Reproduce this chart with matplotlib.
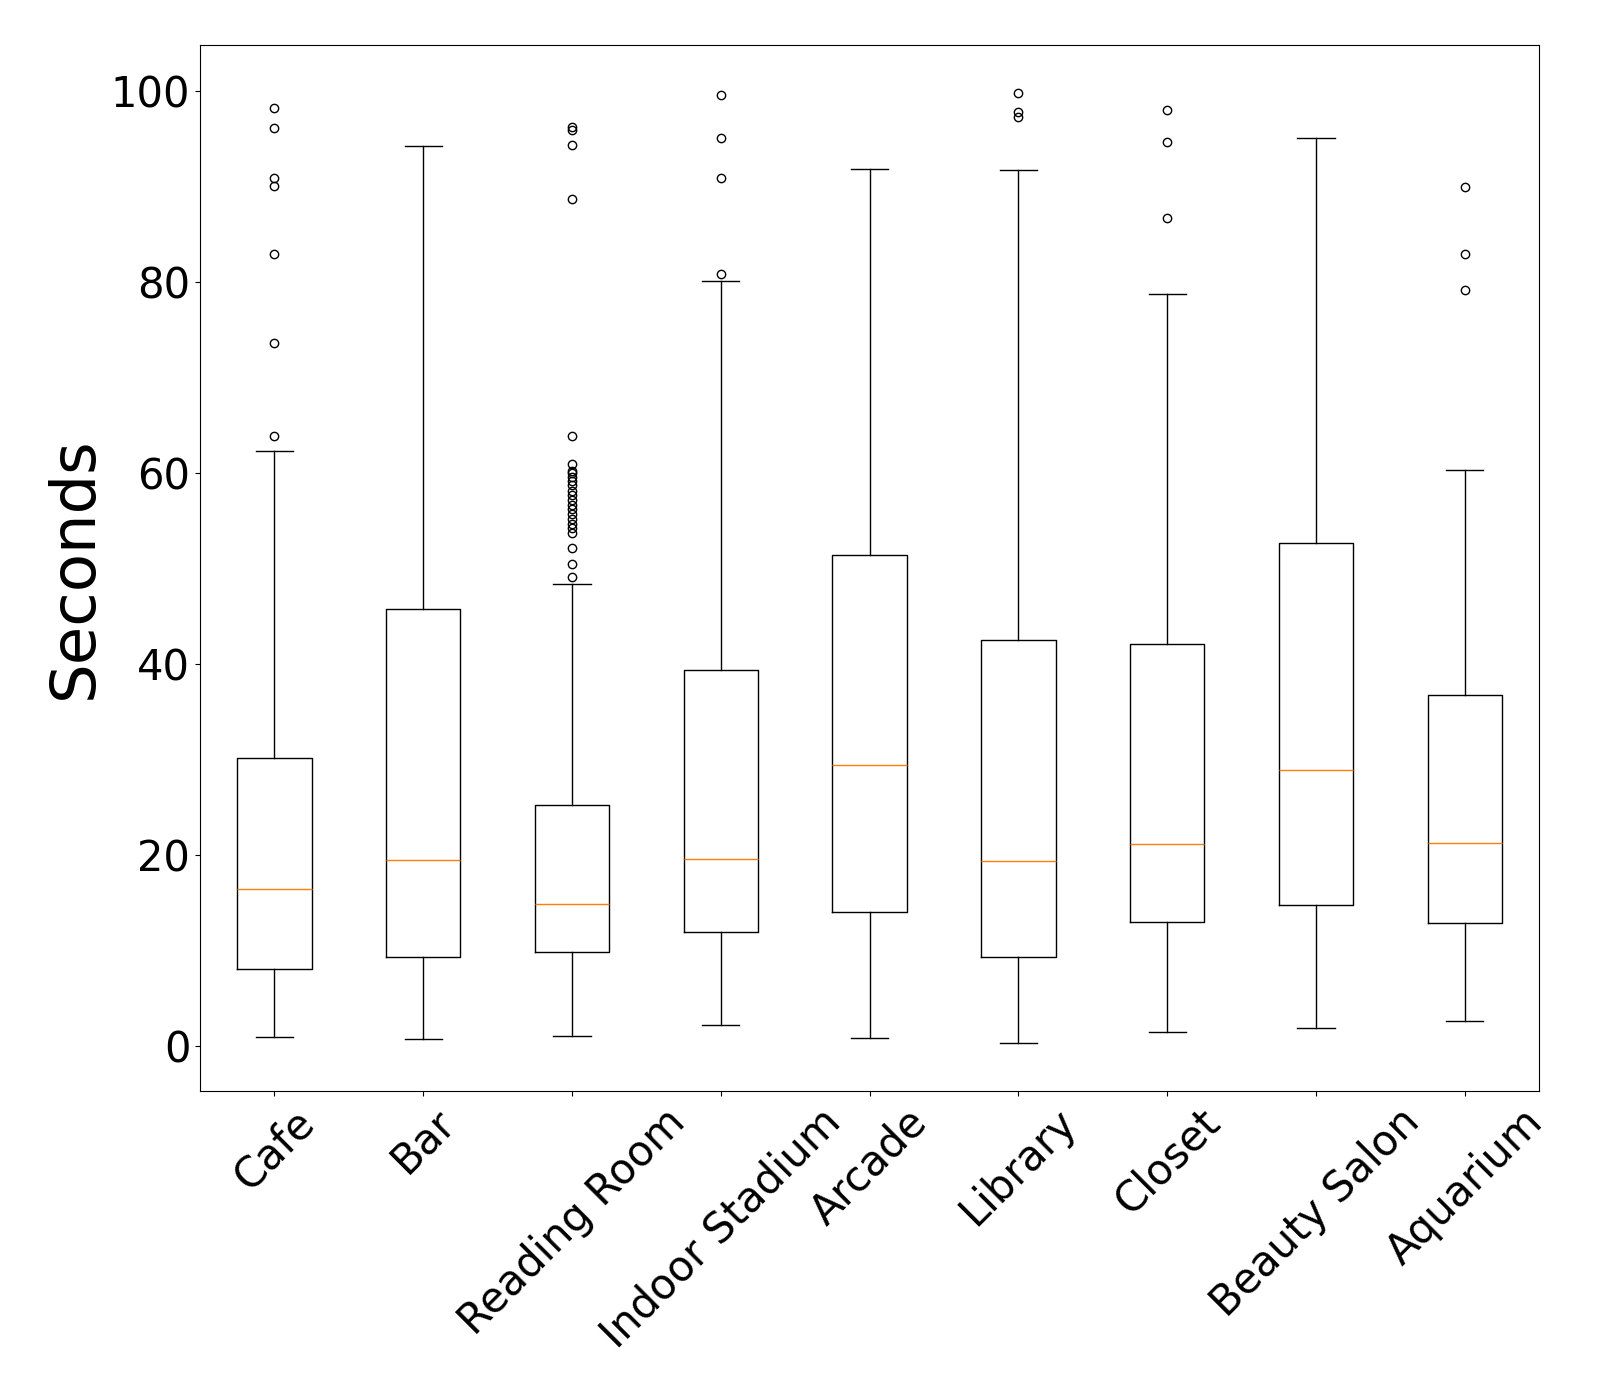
import matplotlib
matplotlib.use("Agg")
import matplotlib.pyplot as plt

# Box plot of seconds per scene category (stats)
labels = ["Cafe", "Bar", "Reading Room", "Indoor Stadium", "Arcade",
          "Library", "Closet", "Beauty Salon", "Aquarium"]

whislo = [1.0, 0.8, 1.1, 2.2, 0.9, 0.3, 1.5, 1.9, 2.6]
q1 = [8.1, 9.4, 9.9, 12.0, 14.1, 9.4, 13.0, 14.8, 12.9]
med = [16.5, 19.5, 14.9, 19.6, 29.4, 19.4, 21.2, 28.9, 21.3]
q3 = [30.2, 45.8, 25.3, 39.4, 51.4, 42.5, 42.1, 52.7, 36.8]
whishi = [62.3, 94.2, 48.4, 80.1, 91.8, 91.7, 78.7, 95.1, 60.3]

fliers = [
    [98.2, 96.1, 90.9, 90.0, 82.9, 73.6, 63.9],
    [],
    [96.2, 95.9, 94.3, 88.7, 63.9, 60.9, 60.2, 60.0, 59.6, 59.2, 58.7,
     58.1, 57.7, 57.2, 56.7, 56.2, 55.7, 55.2, 54.7, 54.2, 53.7, 52.2,
     50.5, 49.1],
    [99.6, 95.0, 90.9, 80.8],
    [],
    [99.8, 97.8, 97.3],
    [98.0, 94.6, 86.7],
    [],
    [89.9, 82.9, 79.1],
]

stats = []
for i in range(len(labels)):
    stats.append({"label": labels[i], "whislo": whislo[i], "q1": q1[i],
                  "med": med[i], "q3": q3[i], "whishi": whishi[i],
                  "fliers": fliers[i]})

fig = plt.figure(figsize=(16, 14), dpi=100)
ax = fig.add_axes([0.125, 0.2207, 0.837, 0.7471])
ax.bxp(stats, showfliers=True)

ax.set_ylabel("Seconds", fontsize=45)
ax.tick_params(axis="y", labelsize=30)
ax.tick_params(axis="x", labelsize=30)
plt.setp(ax.get_xticklabels(), rotation=45)

fig.savefig("out.png", dpi=100)
